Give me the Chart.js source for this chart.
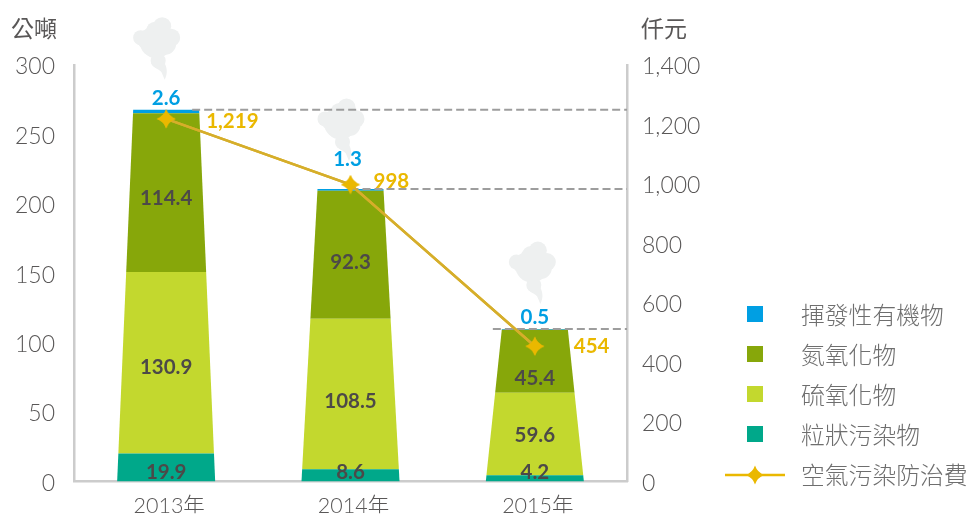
<!DOCTYPE html>
<html lang="zh-Hant">
<head>
    <meta charset="UTF-8">
    <title>空氣污染防治費</title>
    <script src="https://cdn.jsdelivr.net/npm/chart.js@4/dist/chart.umd.min.js"></script>
    <style>
        body { margin: 0; background: #fff; }
        canvas { display: block; }
    </style>
</head>
<body>
    <canvas id="myChart" width="969" height="514"></canvas>

    <script>
    // data
    var years = ["2013年", "2014年", "2015年"];
    var particulate = [19.9, 8.6, 4.2];
    var sox = [130.9, 108.5, 59.6];
    var nox = [114.4, 92.3, 45.4];
    var voc = [2.6, 1.3, 0.5];
    var fee = [1219, 998, 454];
    var leftTicks = [0, 50, 100, 150, 200, 250, 300];
    var rightTicks = [0, 200, 400, 600, 800, 1000, 1200, 1400];

    var numFont = "Lato, 'Noto Sans CJK TC', sans-serif";
    var cjkFont = "'Noto Sans CJK TC', sans-serif";
    var tickColor = "#595757";
    var labelColor = "#4c4948";
    var blue = "#009fe3";
    var gold = "#eab800";

    // nudges for the value labels, the original places them by hand
    var segLabelDy = [[0, 0, 0], [5, 7, 1], [6, 8, 17]];
    var vocLabelNudge = [[0, -11], [-3, -29], [0, -12]];
    var feeLabelNudge = [[40, 3], [23, -3], [39, 0]];
    var dashStart = [26, 0, -42];
    var smokeDx = [0, 0, 7];
    var smokeDy = [0, 2, 5];

    // four point star used for the line markers
    function makeStar() {
        var c = document.createElement("canvas");
        c.width = 20;
        c.height = 20;
        var g = c.getContext("2d");
        g.fillStyle = gold;
        g.beginPath();
        g.moveTo(10, 0.5);
        g.quadraticCurveTo(12.4, 7.6, 19.5, 10);
        g.quadraticCurveTo(12.4, 12.4, 10, 19.5);
        g.quadraticCurveTo(7.6, 12.4, 0.5, 10);
        g.quadraticCurveTo(7.6, 7.6, 10, 0.5);
        g.fill();
        return c;
    }
    var star = makeStar();

    function drawSmoke(ctx, left, top) {
        ctx.save();
        ctx.translate(left, top);
        ctx.fillStyle = "#eef0f0";
        var lobes = [[29, 9.5, 9], [22, 14, 9], [7.5, 21, 7.5], [38, 21, 9], [23, 25, 16.5], [14, 23, 10], [32, 27, 11], [25, 44, 7.5]];
        lobes.forEach(function (l) {
            ctx.beginPath();
            ctx.arc(l[0], l[1], l[2], 0, Math.PI * 2);
            ctx.fill();
        });
        ctx.beginPath();
        ctx.moveTo(18, 44);
        ctx.bezierCurveTo(18, 52, 28, 52, 29, 57);
        ctx.lineTo(31.5, 63);
        ctx.bezierCurveTo(35, 56, 34, 50, 30, 44);
        ctx.closePath();
        ctx.fill();
        ctx.restore();
    }

    var chimneyPlugin = {
        id: "chimney",
        // smoke goes under the bars
        beforeDatasetsDraw: function (chart) {
            var ctx = chart.ctx;
            chart.getDatasetMeta(3).data.forEach(function (bar, i) {
                drawSmoke(ctx, bar.x - 33 + smokeDx[i], bar.y - 93 + smokeDy[i]);
            });
        },
        // every bar is tapered, from the full width at the base to 2/3 at the top of its stack
        beforeDatasetDraw: function (chart, args) {
            var meta = chart.getDatasetMeta(args.index);
            if (meta.type !== "bar") return;
            var ctx = chart.ctx;
            var tops = chart.getDatasetMeta(3).data;
            var axisBase = chart.scales.y.getPixelForValue(0);
            meta.data.forEach(function (bar, i) {
                var full = bar.width / 2;
                var slope = (full - full * 0.673) / (axisBase - tops[i].y);
                var wTop = full - (axisBase - bar.y) * slope;
                var wBase = full - (axisBase - bar.base) * slope;
                ctx.fillStyle = chart.data.datasets[args.index].backgroundColor;
                ctx.beginPath();
                ctx.moveTo(bar.x - wBase, bar.base);
                ctx.lineTo(bar.x + wBase, bar.base);
                ctx.lineTo(bar.x + wTop, bar.y);
                ctx.lineTo(bar.x - wTop, bar.y);
                ctx.closePath();
                ctx.fill();
            });
            return false;
        },
        afterDatasetsDraw: function (chart) {
            var ctx = chart.ctx;
            var area = chart.chartArea;
            ctx.save();

            // dashed lines from the top of each stack to the right axis
            ctx.strokeStyle = "#9d9d9d";
            ctx.lineWidth = 2;
            ctx.setLineDash([8, 4]);
            chart.getDatasetMeta(3).data.forEach(function (bar, i) {
                ctx.beginPath();
                ctx.moveTo(bar.x + dashStart[i], bar.y);
                ctx.lineTo(area.right, bar.y);
                ctx.stroke();
            });
            ctx.setLineDash([]);

            // redraw the line and its markers over the dashes
            chart.getDatasetMeta(4).controller.draw();

            // value labels in the bars
            ctx.textBaseline = "middle";
            ctx.textAlign = "center";
            ctx.font = "bold 20.5px " + numFont;
            ctx.fillStyle = labelColor;
            chart.getDatasetMeta(0).data.forEach(function (bar, i) {
                ctx.fillText(particulate[i].toFixed(1), bar.x, bar.base - 9);
            });
            [sox, nox].forEach(function (values, s) {
                chart.getDatasetMeta(s + 1).data.forEach(function (bar, i) {
                    ctx.fillText(values[i].toFixed(1), bar.x, (bar.y + bar.base) / 2 + segLabelDy[s + 1][i]);
                });
            });

            ctx.fillStyle = blue;
            chart.getDatasetMeta(3).data.forEach(function (bar, i) {
                ctx.fillText(voc[i].toFixed(1), bar.x + vocLabelNudge[i][0], bar.y + vocLabelNudge[i][1]);
            });

            ctx.textAlign = "left";
            ctx.fillStyle = gold;
            chart.getDatasetMeta(4).data.forEach(function (pt, i) {
                ctx.fillText(fee[i].toLocaleString("en-US"), pt.x + feeLabelNudge[i][0], pt.y + feeLabelNudge[i][1]);
            });

            // unit titles
            ctx.font = "23px " + cjkFont;
            ctx.fillStyle = tickColor;
            ctx.fillText("公噸", 11, 28);
            ctx.fillText("仟元", 641, 28);

            // legend, top item is the last stacked series
            ctx.font = "300 23.8px " + cjkFont;
            var rows = [3, 2, 1, 0];
            rows.forEach(function (d, r) {
                var ds = chart.data.datasets[d];
                var y = 314 + r * 40;
                ctx.fillStyle = ds.backgroundColor;
                ctx.fillRect(747, y - 8, 16, 16);
                ctx.fillStyle = "#6e6e6e";
                ctx.fillText(ds.label, 801, y + 1);
            });
            ctx.strokeStyle = gold;
            ctx.lineWidth = 2.5;
            ctx.beginPath();
            ctx.moveTo(725, 475);
            ctx.lineTo(785, 475);
            ctx.stroke();
            ctx.drawImage(star, 745, 465);
            ctx.fillStyle = "#6e6e6e";
            ctx.fillText(chart.data.datasets[4].label, 801, 475);

            ctx.restore();
        }
    };

    new Chart("myChart", {
        type: "bar",
        plugins: [chimneyPlugin],
        data: {
            labels: years,
            datasets: [
                { label: "粒狀污染物", data: particulate, backgroundColor: "#00a88a", yAxisID: "y", order: 1, barThickness: 98 },
                { label: "硫氧化物", data: sox, backgroundColor: "#c3d82e", yAxisID: "y", order: 1, barThickness: 98 },
                { label: "氮氧化物", data: nox, backgroundColor: "#87a70a", yAxisID: "y", order: 1, barThickness: 98 },
                { label: "揮發性有機物", data: voc, backgroundColor: blue, yAxisID: "y", order: 1, barThickness: 98 },
                {
                    type: "line", label: "空氣污染防治費", data: fee, yAxisID: "y1", order: 0,
                    borderColor: "#d6ae2a", borderWidth: 2.5, tension: 0,
                    pointStyle: star, pointRadius: 10
                }
            ]
        },
        options: {
            responsive: false,
            animation: false,
            layout: { autoPadding: false, padding: { top: 65, left: 0, right: 0, bottom: 0 } },
            plugins: { legend: { display: false }, title: { display: false }, tooltip: { enabled: false } },
            scales: {
                x: {
                    stacked: true,
                    grid: { display: false, drawTicks: false },
                    border: { color: "#cccccc", width: 2.5 },
                    ticks: { color: tickColor, padding: 12, labelOffset: 3, font: { family: numFont, size: 21.5, weight: "300" } },
                    afterFit: function (s) { s.height = 32; }
                },
                y: {
                    stacked: true,
                    position: "left",
                    min: 0,
                    max: 300,
                    afterBuildTicks: function (s) { s.ticks = leftTicks.map(function (v) { return { value: v }; }); },
                    grid: { display: false, drawTicks: false },
                    border: { color: "#cccccc", width: 2.5 },
                    ticks: { color: tickColor, padding: 19, labelOffset: 2, font: { family: numFont, size: 23, weight: "300" } },
                    afterFit: function (s) { s.width = 74; }
                },
                y1: {
                    position: "right",
                    min: 0,
                    max: 1400,
                    afterBuildTicks: function (s) { s.ticks = rightTicks.map(function (v) { return { value: v }; }); },
                    grid: { display: false, drawTicks: false },
                    border: { color: "#cccccc", width: 2.5 },
                    ticks: {
                        color: tickColor, padding: 15, labelOffset: 2, font: { family: numFont, size: 23, weight: "300" },
                        callback: function (v) { return v.toLocaleString("en-US"); }
                    },
                    afterFit: function (s) { s.width = 342; }
                }
            }
        }
    });
    </script>
</body>
</html>
